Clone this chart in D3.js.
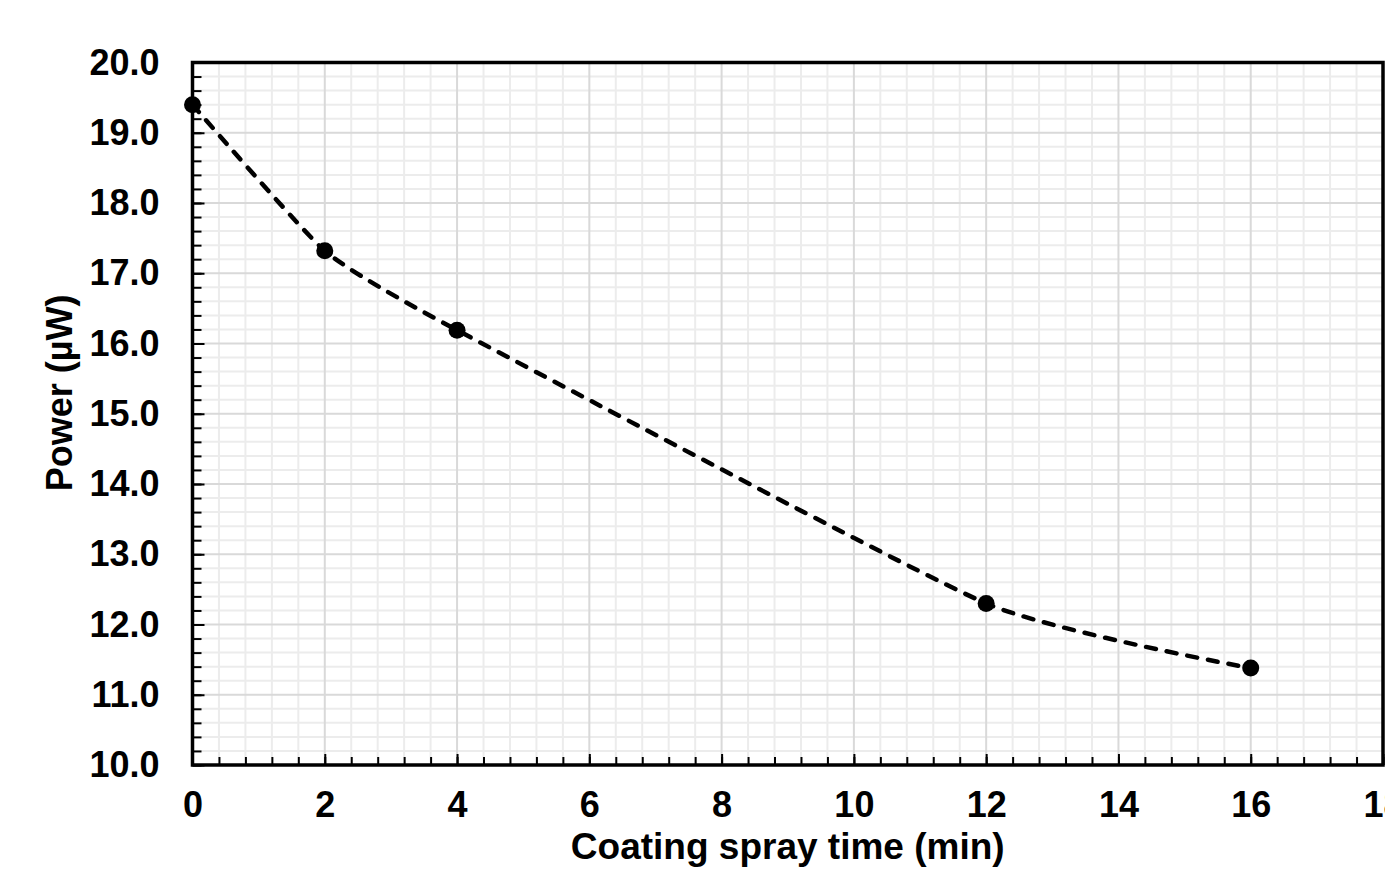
<!DOCTYPE html>
<html>
<head>
<meta charset="utf-8">
<script src="https://cdnjs.cloudflare.com/ajax/libs/d3/7.8.5/d3.min.js"></script>
<style>
    html, body { margin: 0; padding: 0; background: #fff; overflow: hidden; }
    text { font-family: "Liberation Sans", Arial, sans-serif; font-weight: bold; fill: #000; }
</style>
</head>
<body>
<div id="chart"></div>
<script>
// data
var sprayTime = [0, 2, 4, 12, 16];
var power = [19.4, 17.32, 16.19, 12.3, 11.38];
var xTicks = [0, 2, 4, 6, 8, 10, 12, 14, 16, 18];
var yTicks = [10, 11, 12, 13, 14, 15, 16, 17, 18, 19, 20];

var Chart = (function() {

    var
        width = 1385,
        height = 880,
        margin = { top: 62.5, right: 2, bottom: 115, left: 192.5 };

    var innerW = width - margin.left - margin.right,
        innerH = height - margin.top - margin.bottom;

    var svg = d3.select("#chart").append("svg")
        .attr("width", width)
        .attr("height", height);

    var x = d3.scaleLinear().domain([0, 18]).range([0, innerW]);
    var y = d3.scaleLinear().domain([10, 20]).range([innerH, 0]);

    var g = svg.append("g")
        .attr("transform", "translate(" + margin.left + "," + margin.top + ")");

    var init = function() {
        drawGrid();
        drawAxes();
        drawLine();
        drawLabels();
    }

    var drawGrid = function() {
        // minor grid: 0.4 on x, 0.2 on y
        var xMinor = d3.range(0, 18.001, 0.4).filter(function(d) { return Math.abs(d / 2 - Math.round(d / 2)) > 1e-6; });
        var yMinor = d3.range(10, 20.001, 0.2).filter(function(d) { return Math.abs(d - Math.round(d)) > 1e-6; });

        g.append("g").selectAll("line").data(xMinor).enter().append("line")
            .attr("x1", function(d) { return x(d); })
            .attr("x2", function(d) { return x(d); })
            .attr("y1", 0).attr("y2", innerH)
            .attr("stroke", "#ececec").attr("stroke-width", 2);

        g.append("g").selectAll("line").data(yMinor).enter().append("line")
            .attr("y1", function(d) { return y(d); })
            .attr("y2", function(d) { return y(d); })
            .attr("x1", 0).attr("x2", innerW)
            .attr("stroke", "#ececec").attr("stroke-width", 2);

        g.append("g").selectAll("line").data(xTicks).enter().append("line")
            .attr("x1", function(d) { return x(d); })
            .attr("x2", function(d) { return x(d); })
            .attr("y1", 0).attr("y2", innerH)
            .attr("stroke", "#d9d9d9").attr("stroke-width", 2);

        g.append("g").selectAll("line").data(yTicks).enter().append("line")
            .attr("y1", function(d) { return y(d); })
            .attr("y2", function(d) { return y(d); })
            .attr("x1", 0).attr("x2", innerW)
            .attr("stroke", "#d9d9d9").attr("stroke-width", 2);
    }

    var drawAxes = function() {
        var xMinorAxis = d3.axisBottom(x)
            .tickValues(d3.range(0, 18.001, 0.4))
            .tickSize(-8).tickFormat("");
        var xAxis = d3.axisBottom(x)
            .tickValues(xTicks)
            .tickSize(-11).tickPadding(26)
            .tickFormat(d3.format("d"));
        var yMinorAxis = d3.axisLeft(y)
            .tickValues(d3.range(10, 20.001, 0.2))
            .tickSize(-9).tickFormat("");
        var yAxis = d3.axisLeft(y)
            .tickValues(yTicks)
            .tickSize(-12).tickPadding(33)
            .tickFormat(d3.format(".1f"));

        var axes = [
            g.append("g").attr("transform", "translate(0," + innerH + ")").call(xMinorAxis),
            g.append("g").attr("transform", "translate(0," + innerH + ")").call(xAxis),
            g.append("g").call(yMinorAxis),
            g.append("g").call(yAxis)
        ];

        axes.forEach(function(a) {
            a.select(".domain").remove();
            a.selectAll(".tick line").attr("stroke", "#000").attr("stroke-width", 2);
            a.selectAll(".tick text")
                .style("font-size", "36px")
                .style("font-family", "'Liberation Sans', Arial, sans-serif")
                .style("font-weight", "bold")
                .attr("fill", "#000");
        });

        // frame round the plot
        g.append("rect")
            .attr("x", 0).attr("y", 0)
            .attr("width", innerW).attr("height", innerH)
            .attr("fill", "none")
            .attr("stroke", "#000")
            .attr("stroke-width", 3.5);
    }

    var drawLine = function() {
        var pts = sprayTime.map(function(t, i) { return [t, power[i]]; });

        var line = d3.line()
            .x(function(d) { return x(d[0]); })
            .y(function(d) { return y(d[1]); })
            .curve(d3.curveCardinal.tension(0.5));

        g.append("path")
            .datum(pts)
            .attr("d", line)
            .attr("fill", "none")
            .attr("stroke", "#000")
            .attr("stroke-width", 4.5)
            .attr("stroke-linecap", "round")
            .attr("stroke-dasharray", "10,11");

        g.append("g").selectAll("circle")
            .data(pts)
            .enter()
            .append("circle")
            .attr("cx", function(d) { return x(d[0]); })
            .attr("cy", function(d) { return y(d[1]); })
            .attr("r", 8.5)
            .attr("fill", "#000");
    }

    var drawLabels = function() {
        svg.append("text")
            .attr("x", margin.left + x(9))
            .attr("y", 859)
            .attr("text-anchor", "middle")
            .style("font-size", "37px")
            .text("Coating spray time (min)");

        svg.append("text")
            .attr("transform", "translate(72," + 393 + ") rotate(-90)")
            .attr("text-anchor", "middle")
            .style("font-size", "36px")
            .text("Power (µW)");
    }

    return {
        init: init
    }

})();

Chart.init();
</script>
</body>
</html>
